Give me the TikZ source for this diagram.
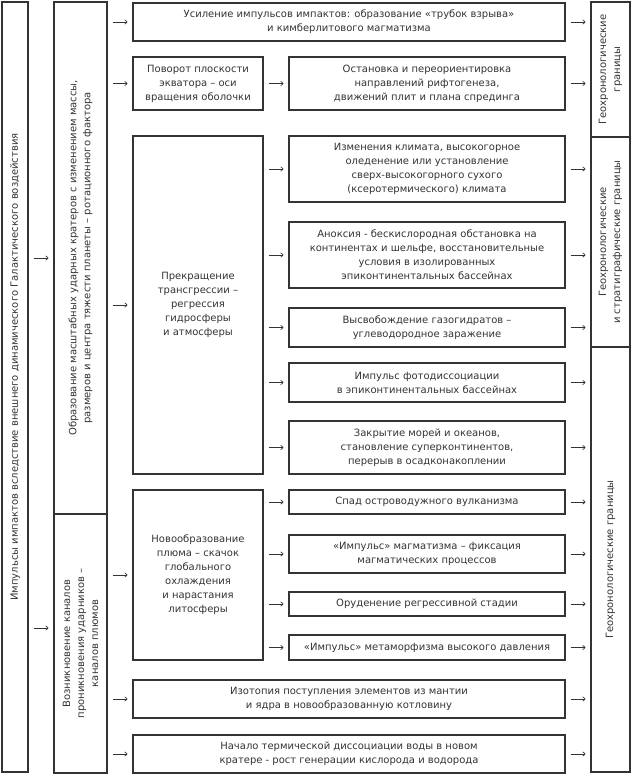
\documentclass[tikz,border=0pt]{standalone}
\usepackage{fontspec}
\setmainfont{DejaVu Sans}
\usetikzlibrary{arrows.meta}
\definecolor{ink}{RGB}{51,51,51}
\tikzset{
  blk/.style={draw=ink, line width=1.1pt, inner sep=0pt, align=center,
              text=ink, font=\fontsize{10}{14}\selectfont},
  vtxt/.style={rotate=90, align=center, text=ink, font=\fontsize{10}{14}\selectfont},
  arr/.style={-{To[length=3pt,width=5pt]}, ink, line width=0.7pt,
              shorten <=5pt, shorten >=5pt},
}

\begin{document}
\begin{tikzpicture}[x=1pt,y=-1pt]
  \useasboundingbox (0,0) rectangle (640,776);
  % left columns
  \node[blk, minimum width=26, minimum height=770] (imp) at (15,387) {};
  \node[vtxt] at (15,367) {Импульсы импактов вследствие внешнего динамического Галактического воздействия};
  \node[blk, minimum width=53, minimum height=512] (crat) at (80.5,258) {};
  \node[vtxt] at (crat.center) {Образование масштабных ударных кратеров с изменением массы,\\
    размеров и центра тяжести планеты – ротационного фактора};
  \node[blk, minimum width=53, minimum height=259] (plum) at (80.5,643.5) {};
  \node[vtxt] at (plum.center) {Возникновение каналов\\ проникновения ударников –\\ каналов плюмов};
  % middle column
  \node[blk, minimum width=432, minimum height=38] (kimb) at (349,22)
    {Усиление импульсов импактов: образование «трубок взрыва»\\ и кимберлитового магматизма};
  \node[blk, minimum width=130, minimum height=53] (rot) at (198,83.5)
    {Поворот плоскости\\ экватора – оси\\ вращения оболочки};
  \node[blk, minimum width=130, minimum height=338] (regr) at (198,305)
    {Прекращение\\ трансгрессии –\\ регрессия\\ гидросферы\\ и атмосферы};
  \node[blk, minimum width=130, minimum height=170] (plume) at (198,575)
    {Новообразование\\ плюма – скачок\\ глобального\\ охлаждения\\ и нарастания\\ литосферы};
  \node[blk, minimum width=432, minimum height=38] (iso) at (349,699)
    {Изотопия поступления элементов из мантии\\ и ядра в новообразованную котловину};
  \node[blk, minimum width=432, minimum height=38] (wat) at (349,754)
    {Начало термической диссоциации воды в новом\\ кратере - рост генерации кислорода и водорода};
  % right column of effects
  \node[blk, minimum width=276, minimum height=53] (rift) at (427,83.5)
    {Остановка и переориентировка\\ направлений рифтогенеза,\\ движений плит и плана спрединга};
  \node[blk, minimum width=276, minimum height=66] (clim) at (427,169)
    {Изменения климата, высокогорное\\ оледенение или установление\\ сверх-высокогорного сухого\\ (ксеротермического) климата};
  \node[blk, minimum width=276, minimum height=66] (anox) at (427,255)
    {Аноксия - бескислородная обстановка на\\ континентах и шельфе, восстановительные\\ условия в изолированных\\ эпиконтинентальных бассейнах};
  \node[blk, minimum width=276, minimum height=39] (gas) at (427,327.5)
    {Высвобождение газогидратов –\\ углеводородное заражение};
  \node[blk, minimum width=276, minimum height=39] (phot) at (427,382.5)
    {Импульс фотодиссоциации\\ в эпиконтинентальных бассейнах};
  \node[blk, minimum width=276, minimum height=53] (clos) at (427,447.5)
    {Закрытие морей и океанов,\\ становление суперконтинентов,\\ перерыв в осадконакоплении};
  \node[blk, minimum width=276, minimum height=24] (volc) at (427,502)
    {Спад островодужного вулканизма};
  \node[blk, minimum width=276, minimum height=38] (magm) at (427,554)
    {«Импульс» магматизма – фиксация\\ магматических процессов};
  \node[blk, minimum width=276, minimum height=24] (ore) at (427,604)
    {Оруденение регрессивной стадии};
  \node[blk, minimum width=276, minimum height=25] (meta) at (427,647.5)
    {«Импульс» метаморфизма высокого давления};
  % boundaries
  \node[blk, minimum width=39, minimum height=135] (geo1) at (610.5,69.5) {};
  \node[vtxt] at (geo1.center) {Геохронологические\\ границы};
  \node[blk, minimum width=39, minimum height=210] (geo2) at (610.5,242) {};
  \node[vtxt] at (geo2.center) {Геохронологические\\ и стратиграфические границы};
  \node[blk, minimum width=39, minimum height=425] (geo3) at (610.5,559.5) {};
  \node[vtxt] at (geo3.center) {Геохронологические границы};
  % arrows
  \draw[arr] (imp.east |- crat.west) -- (crat.west);
  \draw[arr] (imp.east |- 0,628) -- (crat.west |- 0,628);
  \foreach \t in {kimb,rot,regr}
    \draw[arr] (crat.east |- \t.west) -- (\t.west);
  \foreach \t in {plume,iso,wat}
    \draw[arr] (plum.east |- \t.west) -- (\t.west);
  \draw[arr] (rot.east) -- (rift.west);
  \foreach \t in {clim,anox,gas,phot,clos}
    \draw[arr] (regr.east |- \t.west) -- (\t.west);
  \foreach \t in {volc,magm,ore,meta}
    \draw[arr] (plume.east |- \t.west) -- (\t.west);
  \foreach \s/\g in {kimb/geo1,rift/geo1,clim/geo2,anox/geo2,gas/geo2,phot/geo3,
                     clos/geo3,volc/geo3,magm/geo3,ore/geo3,meta/geo3,iso/geo3,wat/geo3}
    \draw[arr] (\s.east) -- (\g.west |- \s.east);
\end{tikzpicture}
\end{document}
